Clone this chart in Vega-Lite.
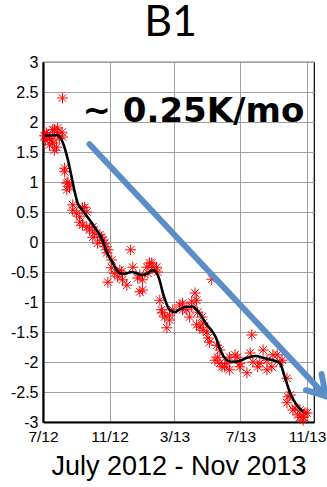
{
  "$schema": "https://vega.github.io/schema/vega-lite/v6.json",
  "width": 271,
  "height": 360,
  "autosize": {"type": "none"},
  "padding": {"left": 43, "top": 62, "right": 13, "bottom": 65},
  "title": {"text": "B1", "font": "Lato", "fontSize": 43, "fontWeight": "normal", "color": "#000", "anchor": "middle", "frame": "group", "offset": 9, "dx": -8},
  "config": {
    "view": {"stroke": "#000", "strokeWidth": 1.2},
    "axis": {"gridColor": "#a0a0a0", "gridWidth": 1, "gridOpacity": 1, "domainColor": "#000", "domainWidth": 2.2, "ticks": false, "tickSize": 0, "labelColor": "#000", "labelFont": "Liberation Sans", "labelFontSize": 15.5, "titleColor": "#000"}
  },
  "datasets": {
    "obs": [
      {"date": "2012-07-04", "dT": 1.77}, {"date": "2012-07-07", "dT": 1.82}, {"date": "2012-07-09", "dT": 1.78},
      {"date": "2012-07-13", "dT": 1.73}, {"date": "2012-07-17", "dT": 1.70}, {"date": "2012-07-19", "dT": 1.65},
      {"date": "2012-07-19", "dT": 1.87}, {"date": "2012-07-22", "dT": 1.87}, {"date": "2012-07-26", "dT": 1.58},
      {"date": "2012-07-28", "dT": 1.82}, {"date": "2012-07-28", "dT": 1.90}, {"date": "2012-07-31", "dT": 1.73},
      {"date": "2012-08-05", "dT": 1.83}, {"date": "2012-08-06", "dT": 1.75}, {"date": "2012-07-06", "dT": 1.70},
      {"date": "2012-07-22", "dT": 1.53}, {"date": "2012-07-13", "dT": 1.62}, {"date": "2012-08-06", "dT": 2.40},
      {"date": "2012-08-10", "dT": 1.23}, {"date": "2012-08-10", "dT": 1.17}, {"date": "2012-08-14", "dT": 0.98},
      {"date": "2012-08-16", "dT": 1.00}, {"date": "2012-08-19", "dT": 0.92}, {"date": "2012-08-14", "dT": 0.87},
      {"date": "2012-08-25", "dT": 0.62}, {"date": "2012-08-25", "dT": 0.53}, {"date": "2012-09-01", "dT": 0.48},
      {"date": "2012-09-07", "dT": 0.42}, {"date": "2012-09-12", "dT": 0.57}, {"date": "2012-09-16", "dT": 0.58},
      {"date": "2012-09-20", "dT": 0.50}, {"date": "2012-09-07", "dT": 0.33}, {"date": "2012-09-12", "dT": 0.28},
      {"date": "2012-09-20", "dT": 0.25}, {"date": "2012-09-25", "dT": 0.20}, {"date": "2012-10-01", "dT": 0.25},
      {"date": "2012-10-01", "dT": 0.08}, {"date": "2012-10-04", "dT": 0.15}, {"date": "2012-10-10", "dT": -0.02},
      {"date": "2012-10-14", "dT": 0.12}, {"date": "2012-10-17", "dT": 0.08}, {"date": "2012-10-19", "dT": 0.03},
      {"date": "2012-10-23", "dT": -0.08}, {"date": "2012-10-23", "dT": -0.02}, {"date": "2012-10-27", "dT": -0.18},
      {"date": "2012-10-29", "dT": -0.13}, {"date": "2012-11-05", "dT": -0.30}, {"date": "2012-12-10", "dT": -0.13},
      {"date": "2012-10-29", "dT": -0.67}, {"date": "2012-11-10", "dT": -0.52}, {"date": "2012-11-16", "dT": -0.58},
      {"date": "2012-11-25", "dT": -0.63}, {"date": "2012-11-23", "dT": -0.50}, {"date": "2012-12-03", "dT": -0.72},
      {"date": "2012-12-14", "dT": -0.42}, {"date": "2012-12-23", "dT": -0.60}, {"date": "2012-12-27", "dT": -0.83},
      {"date": "2012-12-27", "dT": -0.55}, {"date": "2013-01-01", "dT": -0.63}, {"date": "2013-01-01", "dT": -0.80},
      {"date": "2013-01-09", "dT": -0.42}, {"date": "2013-01-11", "dT": -0.52}, {"date": "2013-01-14", "dT": -0.35},
      {"date": "2013-01-18", "dT": -0.35}, {"date": "2013-01-20", "dT": -0.42}, {"date": "2013-01-27", "dT": -0.42},
      {"date": "2013-01-29", "dT": -0.50}, {"date": "2012-11-20", "dT": -0.47}, {"date": "2012-11-05", "dT": -0.43},
      {"date": "2013-02-02", "dT": -0.97}, {"date": "2013-02-05", "dT": -1.13}, {"date": "2013-02-07", "dT": -1.18},
      {"date": "2013-02-11", "dT": -1.25}, {"date": "2013-02-15", "dT": -1.43}, {"date": "2013-02-20", "dT": -1.30},
      {"date": "2013-02-20", "dT": -1.22}, {"date": "2013-02-26", "dT": -1.13}, {"date": "2013-03-11", "dT": -1.05},
      {"date": "2013-03-16", "dT": -1.02}, {"date": "2013-03-16", "dT": -1.13}, {"date": "2013-03-24", "dT": -1.13},
      {"date": "2013-03-29", "dT": -1.25}, {"date": "2013-04-02", "dT": -1.08}, {"date": "2013-04-02", "dT": -1.00},
      {"date": "2013-04-08", "dT": -0.85}, {"date": "2013-04-11", "dT": -0.97}, {"date": "2013-04-13", "dT": -1.17},
      {"date": "2013-04-21", "dT": -1.25}, {"date": "2013-04-23", "dT": -1.35}, {"date": "2013-04-17", "dT": -1.42},
      {"date": "2013-04-30", "dT": -1.50}, {"date": "2013-05-02", "dT": -1.60}, {"date": "2013-05-05", "dT": -1.67},
      {"date": "2013-04-11", "dT": -1.38}, {"date": "2013-04-23", "dT": -1.47}, {"date": "2013-05-09", "dT": -0.62},
      {"date": "2013-05-15", "dT": -1.97}, {"date": "2013-05-20", "dT": -1.92}, {"date": "2013-05-24", "dT": -2.02},
      {"date": "2013-05-28", "dT": -2.08}, {"date": "2013-06-02", "dT": -2.08}, {"date": "2013-06-06", "dT": -2.02},
      {"date": "2013-06-11", "dT": -1.92}, {"date": "2013-06-11", "dT": -2.13}, {"date": "2013-06-21", "dT": -1.88},
      {"date": "2013-06-25", "dT": -1.92}, {"date": "2013-06-30", "dT": -2.02}, {"date": "2013-06-30", "dT": -2.08},
      {"date": "2013-07-13", "dT": -2.18}, {"date": "2013-07-19", "dT": -1.85}, {"date": "2013-07-22", "dT": -1.55},
      {"date": "2013-07-24", "dT": -2.00}, {"date": "2013-08-02", "dT": -2.08}, {"date": "2013-08-06", "dT": -2.02},
      {"date": "2013-08-12", "dT": -1.80}, {"date": "2013-08-19", "dT": -1.97}, {"date": "2013-08-19", "dT": -2.13},
      {"date": "2013-08-28", "dT": -2.08}, {"date": "2013-08-30", "dT": -1.88}, {"date": "2013-09-07", "dT": -1.88},
      {"date": "2013-09-12", "dT": -2.00}, {"date": "2013-09-16", "dT": -1.97}, {"date": "2013-09-25", "dT": -2.27},
      {"date": "2013-09-27", "dT": -2.58}, {"date": "2013-09-25", "dT": -2.68}, {"date": "2013-10-01", "dT": -2.55},
      {"date": "2013-10-06", "dT": -2.80}, {"date": "2013-10-10", "dT": -2.77}, {"date": "2013-10-15", "dT": -2.88},
      {"date": "2013-10-19", "dT": -2.80}, {"date": "2013-10-19", "dT": -2.92}, {"date": "2013-10-25", "dT": -2.92},
      {"date": "2013-10-25", "dT": -2.97}, {"date": "2013-10-28", "dT": -2.85}, {"date": "2013-11-01", "dT": -2.85},
      {"date": "2013-05-24", "dT": -1.80}, {"date": "2013-05-18", "dT": -1.72}
    ],
    "smooth": [
      {"date": "2012-07-04", "dT": 1.77}, {"date": "2012-07-28", "dT": 1.78}, {"date": "2012-08-06", "dT": 1.67},
      {"date": "2012-08-16", "dT": 1.37}, {"date": "2012-08-23", "dT": 1.08}, {"date": "2012-08-29", "dT": 0.82},
      {"date": "2012-09-03", "dT": 0.65}, {"date": "2012-09-12", "dT": 0.53}, {"date": "2012-09-25", "dT": 0.37},
      {"date": "2012-10-08", "dT": 0.20}, {"date": "2012-10-19", "dT": 0.03}, {"date": "2012-10-27", "dT": -0.17},
      {"date": "2012-11-07", "dT": -0.35}, {"date": "2012-11-20", "dT": -0.52}, {"date": "2012-11-29", "dT": -0.53},
      {"date": "2012-12-12", "dT": -0.50}, {"date": "2012-12-21", "dT": -0.52}, {"date": "2012-12-30", "dT": -0.55},
      {"date": "2013-01-11", "dT": -0.52}, {"date": "2013-01-20", "dT": -0.47}, {"date": "2013-01-28", "dT": -0.53},
      {"date": "2013-02-02", "dT": -0.65}, {"date": "2013-02-07", "dT": -0.83}, {"date": "2013-02-14", "dT": -1.02},
      {"date": "2013-02-20", "dT": -1.13}, {"date": "2013-03-02", "dT": -1.17}, {"date": "2013-03-11", "dT": -1.12},
      {"date": "2013-03-24", "dT": -1.08}, {"date": "2013-04-04", "dT": -1.08}, {"date": "2013-04-17", "dT": -1.20},
      {"date": "2013-04-30", "dT": -1.38}, {"date": "2013-05-09", "dT": -1.48}, {"date": "2013-05-17", "dT": -1.60},
      {"date": "2013-05-24", "dT": -1.78}, {"date": "2013-06-06", "dT": -1.97}, {"date": "2013-06-17", "dT": -2.00},
      {"date": "2013-06-30", "dT": -1.98}, {"date": "2013-07-13", "dT": -1.93}, {"date": "2013-07-28", "dT": -1.90},
      {"date": "2013-08-12", "dT": -1.93}, {"date": "2013-08-30", "dT": -1.97}, {"date": "2013-09-12", "dT": -2.02},
      {"date": "2013-09-21", "dT": -2.25}, {"date": "2013-10-01", "dT": -2.52}, {"date": "2013-10-14", "dT": -2.73},
      {"date": "2013-10-25", "dT": -2.83}
    ],
    "arrow": [
      {"date": "2012-09-25", "dT": 1.63, "date2": "2013-12-06", "dT2": -2.57},
      {"date": "2013-12-06", "dT": -2.57, "date2": "2013-11-28", "dT2": -2.2},
      {"date": "2013-12-06", "dT": -2.57, "date2": "2013-10-30", "dT2": -2.47}
    ],
    "note": [
      {"date": "2012-09-12", "dT": 2.0, "label": "~ 0.25K/mo"}
    ]
  },
  "encoding": {
    "x": {
      "field": "date", "type": "temporal",
      "scale": {"domain": [{"year": 2012, "month": 7, "date": 1}, {"year": 2013, "month": 11, "date": 14}]},
      "axis": {
        "values": [{"year": 2012, "month": 7, "date": 1}, {"year": 2012, "month": 11, "date": 1}, {"year": 2013, "month": 3, "date": 1}, {"year": 2013, "month": 7, "date": 1}, {"year": 2013, "month": 11, "date": 1}],
        "format": "%-m/%y", "labelPadding": 7, "labelFlush": false, "labelOverlap": false,
        "title": "July 2012 - Nov 2013", "titleFont": "Liberation Sans", "titleFontSize": 27, "titleFontWeight": "normal", "titlePadding": 9
      }
    },
    "y": {
      "field": "dT", "type": "quantitative",
      "scale": {"domain": [-3, 3], "nice": false, "zero": false},
      "axis": {
        "values": [-3, -2.5, -2, -1.5, -1, -0.5, 0, 0.5, 1, 1.5, 2, 2.5, 3],
        "labelExpr": "'' + datum.value", "labelFontSize": 16, "labelPadding": 5, "labelOverlap": false, "labelFlush": false, "title": null
      }
    }
  },
  "layer": [
    {
      "data": {"name": "obs"},
      "mark": {"type": "point", "shape": "M-1,0H1M0,-1V1M-0.7,-0.7L0.7,0.7M-0.7,0.7L0.7,-0.7", "filled": false, "stroke": "#ff0000", "strokeWidth": 1, "size": 121, "opacity": 1}
    },
    {
      "data": {"name": "smooth"},
      "mark": {"type": "line", "color": "#000", "strokeWidth": 2.6, "interpolate": "monotone"}
    },
    {
      "data": {"name": "arrow"},
      "mark": {"type": "rule", "color": "#5b8ec8", "strokeWidth": 6, "strokeCap": "round", "clip": false},
      "encoding": {"x2": {"field": "date2"}, "y2": {"field": "dT2"}}
    },
    {
      "data": {"name": "note"},
      "mark": {"type": "text", "align": "left", "baseline": "alphabetic", "font": "DejaVu Sans", "fontWeight": "bold", "fontSize": 34, "color": "#000"},
      "encoding": {"text": {"field": "label"}}
    }
  ]
}
